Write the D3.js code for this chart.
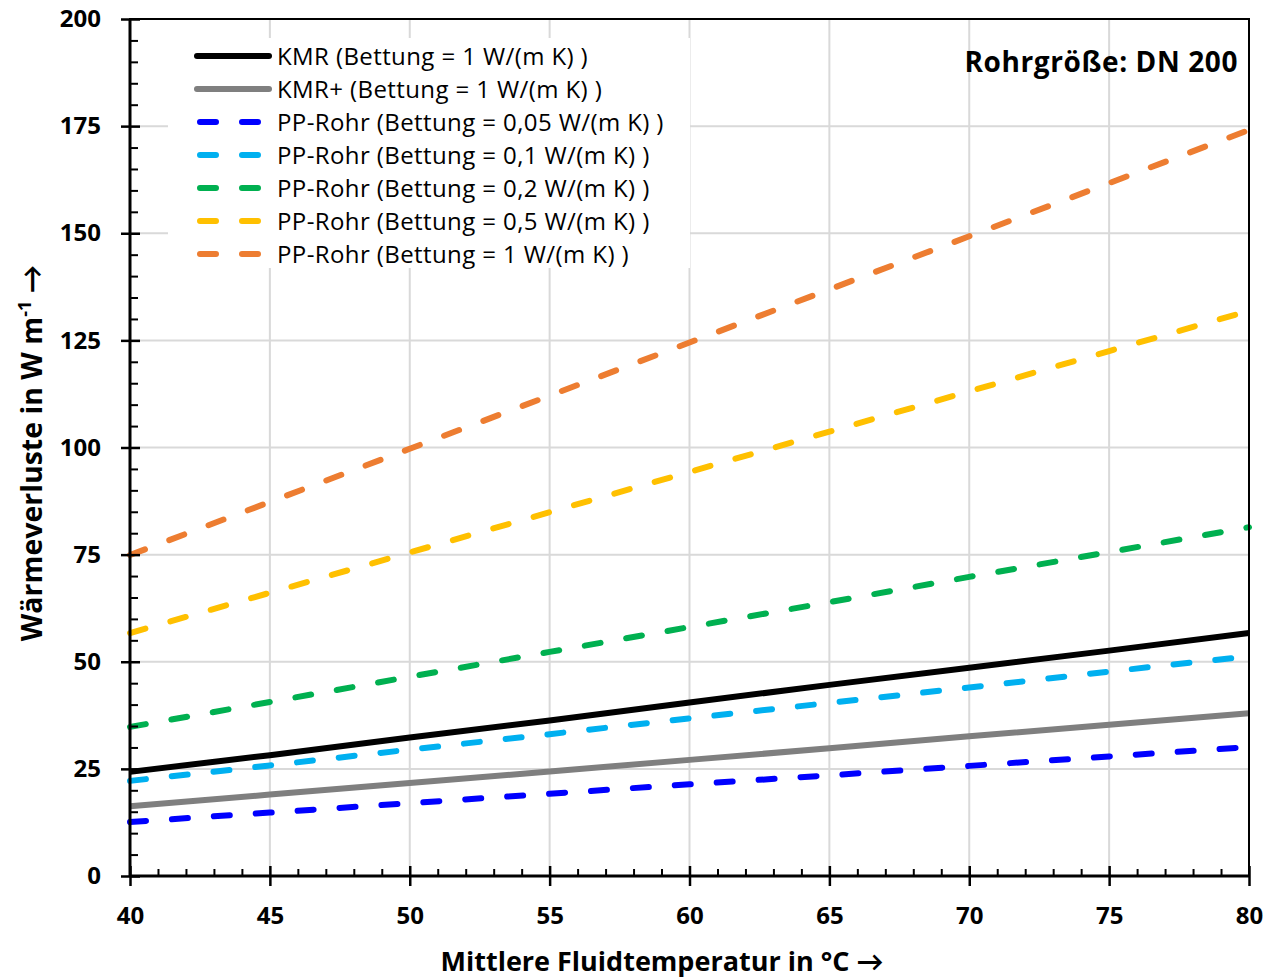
<!DOCTYPE html>
<html>
<head>
<meta charset="utf-8">
<script src="https://cdn.jsdelivr.net/npm/d3@7"></script>
<style>
  body { margin: 0; background: #fff; }
  text { font-family: "Open Sans", Lato, sans-serif; fill: #000; }
</style>
</head>
<body>
<svg id="chart"></svg>
<script>
// Wärmeverluste vs. mittlere Fluidtemperatur, DN 200

let temps = [40, 45, 50, 55, 60, 65, 70, 75, 80];

let kmr = [24.3, 28.2, 32.3, 36.3, 40.5, 44.6, 48.6, 52.6, 56.7];
let kmrPlus = [16.3, 19.0, 21.7, 24.4, 27.1, 29.8, 32.6, 35.3, 38.0];
let pp005 = [12.6, 14.8, 17.0, 19.2, 21.4, 23.5, 25.7, 27.9, 30.1];
let pp01 = [22.2, 25.8, 29.5, 33.1, 36.8, 40.4, 44.0, 47.7, 51.3];
let pp02 = [34.8, 40.6, 46.5, 52.3, 58.1, 63.9, 69.8, 75.6, 81.4];
let pp05 = [56.7, 66.1, 75.5, 84.9, 94.3, 103.7, 113.1, 122.5, 131.9];
let pp1 = [74.9, 87.3, 99.7, 112.1, 124.5, 136.9, 149.3, 161.7, 174.1];

let seriesNames = [
  "KMR (Bettung = 1 W/(m K) )",
  "KMR+ (Bettung = 1 W/(m K) )",
  "PP-Rohr (Bettung = 0,05 W/(m K) )",
  "PP-Rohr (Bettung = 0,1 W/(m K) )",
  "PP-Rohr (Bettung = 0,2 W/(m K) )",
  "PP-Rohr (Bettung = 0,5 W/(m K) )",
  "PP-Rohr (Bettung = 1 W/(m K) )"
];
let seriesColors = ["#000000", "#7f7f7f", "#0000ff", "#00b0f0", "#00b050", "#ffc000", "#ed7d31"];
let seriesDashed = [false, false, true, true, true, true, true];
let seriesValues = [kmr, kmrPlus, pp005, pp01, pp02, pp05, pp1];

let xTicks = [40, 45, 50, 55, 60, 65, 70, 75, 80];
let yTicks = [0, 25, 50, 75, 100, 125, 150, 175, 200];

let width = 1266;
let height = 978;
let margin = { top: 19, right: 17, bottom: 102, left: 130 };
let plotW = width - margin.left - margin.right;
let plotH = height - margin.top - margin.bottom;

let svg = d3.select("#chart").attr("width", width).attr("height", height);

let x = d3.scaleLinear().domain([40, 80]).range([0, plotW]);
let y = d3.scaleLinear().domain([0, 200]).range([plotH, 0]);

let g = svg.append("g").attr("transform", `translate(${margin.left},${margin.top})`);

// gridlines
g.append("g")
  .selectAll("line.vgrid")
  .data(xTicks.slice(1, -1))
  .join("line")
  .attr("x1", d => x(d))
  .attr("x2", d => x(d))
  .attr("y1", 0)
  .attr("y2", plotH)
  .attr("stroke", "#d9d9d9")
  .attr("stroke-width", 2);

g.append("g")
  .selectAll("line.hgrid")
  .data(yTicks.slice(1, -1))
  .join("line")
  .attr("x1", 0)
  .attr("x2", plotW)
  .attr("y1", d => y(d))
  .attr("y2", d => y(d))
  .attr("stroke", "#d9d9d9")
  .attr("stroke-width", 2);

// legend background hides the grid
let legend = svg.append("g");
legend.append("rect")
  .attr("x", 168)
  .attr("y", 38)
  .attr("width", 522)
  .attr("height", 230)
  .attr("fill", "#fff");

// series
let line = d3.line()
  .x((d, i) => x(temps[i]))
  .y(d => y(d));

g.append("g")
  .selectAll("path")
  .data(seriesValues)
  .join("path")
  .attr("d", d => line(d))
  .attr("fill", "none")
  .attr("stroke", (d, i) => seriesColors[i])
  .attr("stroke-width", 6)
  .attr("stroke-linecap", (d, i) => seriesDashed[i] ? "round" : "butt")
  .attr("stroke-dasharray", (d, i) => seriesDashed[i] ? "16,26" : null);

// frame
g.append("rect")
  .attr("x", 0)
  .attr("y", 0)
  .attr("width", plotW)
  .attr("height", plotH)
  .attr("fill", "none")
  .attr("stroke", "#000")
  .attr("stroke-width", 2);

let yMinor = d3.range(0, 201, 5).filter(v => v % 25 !== 0);
let xMinor = d3.range(40, 81, 1).filter(v => v % 5 !== 0);

// y axis
let yAxis = g.append("g")
  .call(d3.axisLeft(y).tickValues(yTicks).tickSize(9).tickPadding(20));
yAxis.select(".domain").remove();
yAxis.selectAll("line").attr("stroke", "#000").attr("stroke-width", 2.5);
yAxis.selectAll("text")
  .attr("font-size", 24)
  .attr("font-weight", "bold")
  .attr("font-family", "'Open Sans', sans-serif");

let yInner = g.append("g")
  .call(d3.axisRight(y).tickValues(yTicks).tickSize(10).tickFormat(""));
yInner.select(".domain").remove();
yInner.selectAll("line").attr("stroke", "#000").attr("stroke-width", 2.5);

let yMinorAxis = g.append("g")
  .call(d3.axisRight(y).tickValues(yMinor).tickSize(8).tickFormat(""));
yMinorAxis.select(".domain").remove();
yMinorAxis.selectAll("line").attr("stroke", "#000").attr("stroke-width", 2);

// x axis
let xAxis = g.append("g")
  .attr("transform", `translate(0,${plotH})`)
  .call(d3.axisBottom(x).tickValues(xTicks).tickSize(10).tickPadding(21));
xAxis.select(".domain").remove();
xAxis.selectAll("line").attr("stroke", "#000").attr("stroke-width", 2.5);
xAxis.selectAll("text")
  .attr("font-size", 24)
  .attr("font-weight", "bold")
  .attr("font-family", "'Open Sans', sans-serif");

let xInner = g.append("g")
  .attr("transform", `translate(0,${plotH})`)
  .call(d3.axisTop(x).tickValues(xTicks).tickSize(10).tickFormat(""));
xInner.select(".domain").remove();
xInner.selectAll("line").attr("stroke", "#000").attr("stroke-width", 2.5);

let xMinorAxis = g.append("g")
  .attr("transform", `translate(0,${plotH})`)
  .call(d3.axisTop(x).tickValues(xMinor).tickSize(7).tickFormat(""));
xMinorAxis.select(".domain").remove();
xMinorAxis.selectAll("line").attr("stroke", "#000").attr("stroke-width", 2);

// axis lines
g.append("line")
  .attr("x1", 0).attr("x2", 0).attr("y1", 0).attr("y2", plotH)
  .attr("stroke", "#000").attr("stroke-width", 3);
g.append("line")
  .attr("x1", 0).attr("x2", plotW).attr("y1", plotH).attr("y2", plotH)
  .attr("stroke", "#000").attr("stroke-width", 3);

// axis titles
svg.append("text")
  .attr("x", 662)
  .attr("y", 971)
  .attr("text-anchor", "middle")
  .attr("font-size", 27)
  .attr("font-weight", "bold")
  .text("Mittlere Fluidtemperatur in °C →");

let yTitle = svg.append("text")
  .attr("transform", "translate(42,453) rotate(-90)")
  .attr("text-anchor", "middle")
  .attr("font-size", 28.5)
  .attr("font-weight", "bold");
yTitle.append("tspan").text("Wärmeverluste in W m");
yTitle.append("tspan").attr("dy", -11).attr("font-size", 18).text("-1");
yTitle.append("tspan").attr("dy", 11).text(" →");

// annotation
svg.append("text")
  .attr("x", 1238)
  .attr("y", 72)
  .attr("text-anchor", "end")
  .attr("font-size", 28)
  .attr("letter-spacing", 0.6)
  .attr("font-weight", "bold")
  .text("Rohrgröße: DN 200");

// legend entries
let rows = legend.selectAll("g.item")
  .data(seriesNames)
  .join("g")
  .attr("class", "item")
  .attr("transform", (d, i) => `translate(0,${56 + i * 33})`);

rows.append("line")
  .attr("x1", (d, i) => seriesDashed[i] ? 200 : 197)
  .attr("x2", (d, i) => seriesDashed[i] ? 258 : 269)
  .attr("y1", 0)
  .attr("y2", 0)
  .attr("stroke", (d, i) => seriesColors[i])
  .attr("stroke-width", 6)
  .attr("stroke-linecap", "round")
  .attr("stroke-dasharray", (d, i) => seriesDashed[i] ? "16,26" : null);

rows.append("text")
  .attr("x", 277)
  .attr("y", 1)
  .attr("dy", "0.35em")
  .attr("font-size", 24)
  .attr("letter-spacing", 0.4)
  .text(d => d);
</script>
</body>
</html>
